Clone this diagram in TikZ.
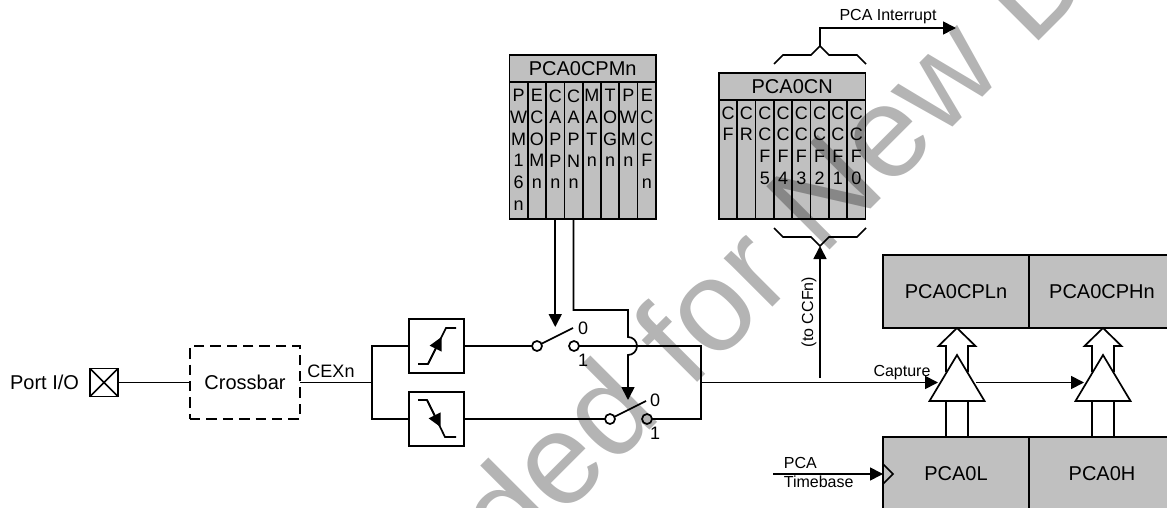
\documentclass[tikz,border=0pt]{standalone}
\usepackage{fontspec}
\setmainfont{Liberation Sans}
\usepackage{xcolor}
\usetikzlibrary{positioning,arrows.meta,calc}
\definecolor{regfill}{HTML}{C0C0C0}
\definecolor{markgray}{HTML}{B4B4B4}
\begin{document}
\begin{tikzpicture}[x=.5pt, y=-.5pt, line width=.85pt, >={Triangle[length=6.5pt,width=6.5pt]},
  font=\fontsize{10}{12}\selectfont,
  reg/.style={draw, fill=regfill, inner sep=0pt, outer sep=0pt, minimum width=73pt, minimum height=36.5pt},
  title/.style={draw, fill=regfill, inner sep=0pt, outer sep=0pt, minimum width=73.2pt, minimum height=13.5pt, anchor=south},
  cell/.style={draw, fill=regfill, inner sep=0pt, outer sep=0pt, minimum width=9.15pt, anchor=north},
  bits/.style={inner sep=0pt, outer sep=0pt, anchor=north, align=center, font=\fontsize{9}{10.85}\selectfont},
  small/.style={inner sep=0pt, font=\fontsize{8}{10}\selectfont},
  digit/.style={inner sep=0pt, font=\fontsize{9}{11}\selectfont},
  filt/.style={draw, minimum width=27.5pt, minimum height=27pt, inner sep=0pt, outer sep=0pt},
  pole/.style={draw, circle, minimum size=5pt, inner sep=0pt, outer sep=0pt}]
\path[use as bounding box, clip] (0,0) rectangle (1167,508);
% registers
\node[title] (cpmtitle) at (582.7,82) {PCA0CPMn};
\foreach \txt [count=\i] in {P\\W\\M\\1\\6\\n, E\\C\\O\\M\\n, C\\A\\P\\P\\n, C\\A\\P\\N\\n, M\\A\\T\\n, T\\O\\G\\n, P\\W\\M\\n, E\\C\\C\\F\\n} {
  \node[cell, minimum height=68.5pt] (cpm\i) at (509.5+18.3*\i-9.15,82) {};
  \node[bits] at (509.5+18.3*\i-9.15,89.5) {\txt};
}
\node[title] (cntitle) at (792.2,100) {PCA0CN};
\foreach \txt [count=\i] in {C\\F, C\\R, C\\C\\F\\5, C\\C\\F\\4, C\\C\\F\\3, C\\C\\F\\2, C\\C\\F\\1, C\\C\\F\\0} {
  \node[cell, minimum height=59.5pt] (cn\i) at (719+18.3*\i-9.15,100) {};
  \node[bits] at (719+18.3*\i-9.15,106.5) {\txt};
}
\node[reg] (cpl) at (956,291.5) {PCA0CPLn};
\node[reg] (cph) at (1102,291.5) {PCA0CPHn};
\node[reg] (pcal) at (956,473.5) {PCA0L};
\node[reg] (pcah) at (1102,473.5) {PCA0H};
% input side
\node[inner sep=0pt] (port) at (44.5,382) {Port I/O};
\node[draw, minimum size=14pt, inner sep=0pt, outer sep=0pt] (pad) at (104,382.5) {};
\draw (pad.north west) -- (pad.south east) (pad.south west) -- (pad.north east);
\node[draw, dashed, dash pattern=on 5.2pt off 3pt, minimum width=55pt, minimum height=36.5pt, inner sep=0pt, outer sep=0pt] (xbar) at (245,382.5) {Crossbar};
\node[inner sep=0pt, font=\fontsize{9}{11}\selectfont] (cex) at (331,371) {CEXn};
\coordinate (fork) at (372,382.5);
\draw (pad) -- (xbar);
\draw (xbar) -- (fork);
\node[filt] (rise) at (436.5,346) {};
\node[filt] (fall) at (436.5,419) {};
\draw (rise.west) -| (fork) |- (fall.west);
\draw (418,364) -- (428,364) -- (446,328) -- (456,328);
\draw[->] (428,364) -- (441.5,337);
\draw (418,400) -- (427,400) -- (445,437) -- (456,437);
\draw[->] (427,400) -- (440.5,427);
% selector switches
\node[pole] (swa) at (537,346) {};
\node[pole] (swb) at (574,346) {};
\node[pole] (swc) at (610,419) {};
\node[pole] (swd) at (647,419) {};
\coordinate (swaend) at (573,328);
\coordinate (swcend) at (646,401);
\draw (rise.east) -- (swa);
\draw (fall.east) -- (swc);
\draw (swa) -- (swaend);
\draw (swc) -- (swcend);
\node[digit] (swa0) at (583,328) {0};
\node[digit] (swa1) at (583,360) {1};
\node[digit] (swc0) at (655,400) {0};
\node[digit] (swc1) at (655,433) {1};
\coordinate (join) at (701,382.5);
\draw (swb) -- (701,346) -- (join) -- (701,419) -- (swd);
\draw[->] (cpm3.south) -- (cpm3.south |- 0,327);
\draw[->] (cpm4.south) |- (628,310) -- (628,337) arc[start angle=-90, end angle=90, radius=9] -- (628,400);
% capture gates
\foreach \cx/\nm in {957/l,1103/h} {
  \draw[fill=white] (\cx-11,372) -- (\cx-11,346) -- (\cx-18.5,346) -- (\cx,328) -- (\cx+18.5,346) -- (\cx+11,346) -- (\cx+11,372);
  \draw (\cx-11,401) -- (\cx-11,437) (\cx+11,401) -- (\cx+11,437);
  \draw[fill=white] (\cx-27.5,401) -- (\cx,355) -- (\cx+27.5,401) -- cycle;
  \coordinate (gate\nm w) at (\cx-19,382.5);
  \coordinate (gate\nm e) at (\cx+19,382.5);
}
\draw[->] (join) -- (gatelw);
\draw[->] (gatele) -- (gatehw);
\node[small] (capture) at (902,373) {Capture};
\coordinate (tapstart) at (820,378);
\draw[->] (tapstart) -- (820,246);
\node[small, rotate=90] (toccf) at (809,312) {(to CCFn)};
% timebase
\node[small, anchor=west] (pca) at (783,463) {PCA};
\node[small, anchor=west] (tbase) at (783,482) {Timebase};
\coordinate (tbstart) at (773,474);
\draw[->] (tbstart) -- (pcal.west |- tbstart);
\draw (883,464) -- (893,474) -- (883,484);
% braces
\draw (774,64) -- (783,55) -- (811,55) -- (820,46) -- (829,55) -- (857,55) -- (866,64);
\draw (774,228) -- (783,237) -- (811,237) -- (820,246) -- (829,237) -- (857,237) -- (866,228);
\node[small] (irq) at (888,17) {PCA Interrupt};
\draw[->] (820,46) |- (956,28);
% watermark
\begin{scope}[blend mode=multiply]
\node[anchor=base west, inner sep=0pt, rotate=45, text=markgray, font=\fontsize{65}{70}\selectfont] (mark) at (510,570) {ded for New D};
\end{scope}
\end{tikzpicture}
\end{document}
